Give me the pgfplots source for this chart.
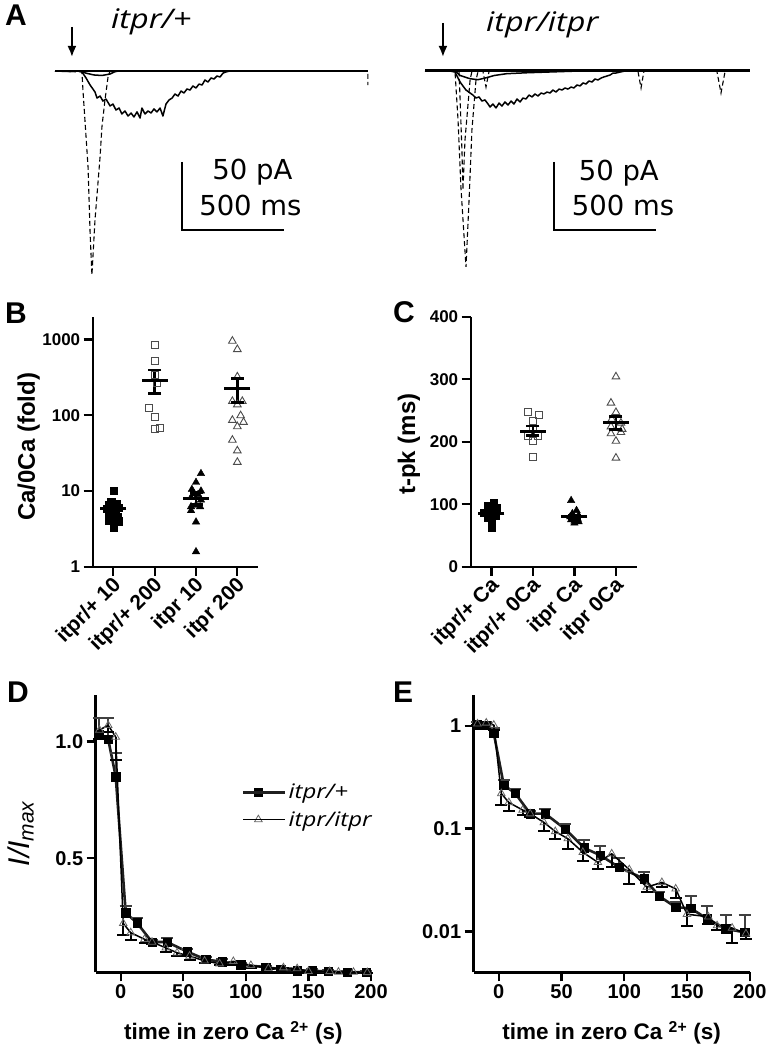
\documentclass[border=0pt]{standalone}
\usepackage{fontspec}
\setmainfont{Liberation Sans}
\newfontfamily\osans[FakeStretch=1.2]{Open Sans}
\newfontfamily\dvsans{DejaVu Sans}
\usepackage{pgfplots}
\usepackage{pgfplotstable}
\pgfplotsset{compat=1.18}
\usetikzlibrary{arrows.meta}

\pgfplotstableread{
t v e
-17 1.03 0.07
-10 1.01 0.09
-4 0.85 0.10
4 0.265 0.03
13 0.222 0.02
25 0.14 0.01
37 0.14 0.016
53 0.099 0.012
68 0.065 0.012
81 0.055 0.013
96 0.042 0.0094
116 0.0325 0.0057
128 0.022 0.002
141 0.0172 0.002
153 0.0168 0.0055
166 0.0133 0.0045
181 0.0106 0.004
196 0.0098 0.0048
}\sqdata

\pgfplotstableread{
t v e
-17 1.05 0.04
-10 1.07 0.03
-4 1.02 0.10
2 0.22 0.05
8 0.18 0.03
19 0.152 0.015
25 0.14 0.01
36 0.115 0.019
45 0.094 0.015
55 0.08 0.016
67 0.059 0.011
79 0.047 0.0065
90 0.057 0.015
104 0.04 0.011
118 0.027 0.003
130 0.030 0.003
141 0.026 0.005
150 0.0147 0.0033
167 0.0139 0.002
174 0.0114 0.001
186 0.0108 0.003
197 0.0095 0.001
}\trdata

\pgfplotsset{
  trace/.style={scale only axis, axis lines=none, clip=false, xmin=0, ymin=-155, ymax=5},
  solidtr/.style={black, line width=1.5pt, line join=round},
  dashtr/.style={black, line width=1.1pt, dash pattern=on 5pt off 3pt},
  scat/.style={scale only axis, clip=false, axis lines*=left,
    axis line style={line width=2.4pt, -},
    tick style={black, line width=2.2pt},
    major tick length=9pt, tick align=outside,
    ticklabel style={font=\fontsize{17}{17}\selectfont\bfseries},
    /pgf/number format/assume math mode=true,
    xmin=0.5, xmax=4.5, xtick={1,2,3,4},
    xticklabel style={rotate=45, anchor=east, font=\fontsize{21}{21}\selectfont\bfseries, xshift=2pt, yshift=-8pt},
    ylabel style={font=\fontsize{24}{24}\selectfont\bfseries},
  },
  fsq/.style={only marks, mark=square*, mark size=3.6pt, mark options={fill=black, draw=black}},
  osq/.style={only marks, mark=square, mark size=3.5pt, mark options={draw=black!70, line width=0.9pt}},
  ftr/.style={only marks, mark=triangle*, mark size=4.3pt, mark options={fill=black, draw=black}},
  otr/.style={only marks, mark=triangle, mark size=4.4pt, mark options={draw=black!70, line width=0.9pt}},
  meanbar/.style={only marks, mark=-, mark size=13pt, mark options={line width=3pt, black}},
  semcap/.style={only marks, mark=-, mark size=6.5pt, mark options={line width=2.6pt, black}},
  semline/.style={black, line width=2.6pt, no marks},
  dec/.style={scale only axis, clip=false, axis lines*=left,
    axis line style={line width=2.6pt, -},
    tick style={black, line width=2.4pt},
    major tick length=9pt, tick align=outside,
    ticklabel style={font=\fontsize{20}{20}\selectfont\bfseries},
    /pgf/number format/assume math mode=true,
    xmin=-20, xmax=200, xtick={0,50,100,150,200},
    xlabel={time in zero Ca \textsuperscript{2+} (s)},
    xlabel style={font=\fontsize{22.5}{22.5}\selectfont\bfseries, at={(axis description cs:0.5,-0.219)}, anchor=center},
  },
  sqline/.style={black!88, line width=2.6pt, mark=square*, mark size=4.2pt,
    mark options={fill=black, draw=black, solid, line width=0.5pt},
    error bars/y dir=plus, error bars/y explicit,
    error bars/error bar style={line width=2pt, black!75},
    error bars/error mark options={rotate=90, line width=2pt, mark size=6pt, black!75}},
  trline/.style={black, line width=1.5pt, mark=triangle, mark size=4.4pt,
    mark options={draw=black!60, fill=white, line width=0.8pt},
    error bars/y dir=minus, error bars/y explicit,
    error bars/error bar style={line width=2pt, black},
    error bars/error mark options={rotate=90, line width=2pt, mark size=6pt, black}},
}

\begin{document}
\begin{tikzpicture}
\path[use as bounding box] (0pt,0pt) rectangle (766pt,-1047pt);

% ---------------- Panel A left
\begin{axis}[trace, at={(55pt,-281.8pt)}, anchor=south west, width=316.2pt, height=217.6pt, xmax=1550]
\addplot[black, line width=2.8pt] coordinates {(0,0) (1534,0)};
\addplot[solidtr] coordinates {(0,0) (120,0) (150,-1.5) (190,-2.9) (230,-3.3) (270,-2.2) (290,-0.7) (310,0)};
\addplot[solidtr] coordinates {(0,0) (73,-0.4) (122,0) (132,-0.7) (152,-5.1) (172,-10.3) (196,-15.4) (206,-19.9) (221,-18.4) (235,-22.1) (250,-20.6) (270,-25.7) (284,-24.3) (299,-28.7) (314,-27.2) (328,-31.6) (343,-29.4) (358,-33.1) (373,-30.9) (387,-33.8) (402,-30.1) (417,-34.6) (426,-27.2) (441,-31.6) (456,-29.4) (471,-30.9) (485,-27.9) (500,-30.1) (515,-27.2) (529,-33.1) (544,-24.3) (559,-21.3) (574,-19.9) (588,-16.9) (603,-18.4) (618,-14.7) (632,-16.2) (647,-13.2) (662,-14.0) (676,-11.0) (691,-12.5) (706,-9.6) (721,-10.3) (735,-6.6) (750,-8.1) (765,-5.1) (779,-5.9) (794,-3.7) (809,-4.4) (824,-1.5) (838,-0.7) (858,0) (1534,0)};
\addplot[dashtr] coordinates {(0,0) (132,-0.7) (137,-14) (162,-70.6) (172,-119) (181,-150) (196,-109.6) (221,-63) (230,-41.2) (245,-21.3) (260,-4.4) (270,0) (1534,0) (1534,-10.3)};
\addplot[black, line width=2pt] coordinates {(622,-66.9) (622,-116.9) (1122,-116.9)};
\node[font=\dvsans\fontsize{27.5}{30}\selectfont, anchor=base, inner sep=0pt] at (axis cs:968,-80.1) {50 pA};
\node[font=\dvsans\fontsize{27.5}{30}\selectfont, anchor=base, inner sep=0pt] at (axis cs:958,-106.6) {500 ms};
\draw[-{Latex[length=11pt,width=9pt]}, line width=2pt] (axis cs:83,32.4) -- (axis cs:83,10.3);
\end{axis}

% ---------------- Panel A right
\begin{axis}[trace, at={(425pt,-281.5pt)}, anchor=south west, width=326.4pt, height=217.6pt, xmax=1600]
\addplot[black, line width=2.8pt] coordinates {(0,0) (1593,0)};
\addplot[solidtr] coordinates {(0,0) (147,0) (172,-3.5) (221,-5.9) (260,-6.6) (300,-5.2) (340,-3.5) (400,-2.2) (500,-1.5) (600,-1) (700,-0.5) (800,0) (1593,0)};
\addplot[solidtr] coordinates {(0,0) (123,-0.2) (147,-1.0) (162,-5.4) (172,-8.3) (186,-11.2) (201,-14.2) (221,-16.4) (235,-17.9) (250,-20.1) (265,-19.3) (279,-22.3) (294,-21.5) (309,-24.5) (319,-26.7) (333,-24.5) (348,-27.4) (363,-23.8) (377,-26.0) (392,-23.0) (407,-25.2) (422,-22.3) (436,-24.5) (451,-20.8) (466,-23.0) (480,-20.1) (495,-20.8) (510,-17.9) (525,-19.3) (539,-17.1) (554,-18.6) (569,-16.4) (583,-17.1) (598,-15.7) (613,-16.4) (627,-14.2) (642,-15.7) (657,-13.5) (672,-14.2) (686,-12.7) (701,-13.5) (716,-12.0) (730,-12.7) (745,-10.5) (760,-11.2) (775,-9.0) (789,-9.8) (804,-7.6) (819,-8.3) (833,-6.1) (848,-6.8) (863,-5.4) (877,-4.6) (892,-3.9) (907,-3.2) (922,-1.7) (936,-1.7) (956,-1.0) (980,-0.2) (1593,0)};
\addplot[dashtr] coordinates {(0,0) (147,-0.5) (162,-36.3) (176,-85.5) (201,-144.3) (216,-95.1) (230,-43.6) (250,-6.8) (260,-0.5) (284,-0.5) (299,-12) (314,-0.5) (1044,-0.5) (1059,-12.7) (1073,-0.5) (1431,-0.5) (1451,-16.4) (1471,-0.5) (1593,0)};
\addplot[dashtr] coordinates {(167,-0.5) (181,-58.3) (186,-87.7) (196,-51) (221,-6.8) (230,-0.5)};
\addplot[black, line width=2pt] coordinates {(631,-67.1) (631,-117.1) (1131,-117.1)};
\node[font=\dvsans\fontsize{27.5}{30}\selectfont, anchor=base, inner sep=0pt] at (axis cs:950,-80.4) {50 pA};
\node[font=\dvsans\fontsize{27.5}{30}\selectfont, anchor=base, inner sep=0pt] at (axis cs:971,-106.1) {500 ms};
\draw[-{Latex[length=11pt,width=9pt]}, line width=2pt] (axis cs:88,35.1) -- (axis cs:88,10.1);
\end{axis}

% ---------------- Panel B
\begin{axis}[scat, at={(92.7pt,-566.7pt)}, anchor=south west, width=165.3pt, height=250pt,
  ymode=log, ymin=1, ymax=2000, ytick={1,10,100,1000}, yticklabels={1,10,100,1000}, yminorticks=false,
  xticklabels={itpr/+ 10, itpr/+ 200, itpr 10, itpr 200},
  ylabel={Ca/0Ca (fold)}, ylabel style={at={(axis description cs:-0.387,0.48)}, anchor=center}]
\addplot[fsq] coordinates {(1.00,10.2) (0.88,6.5) (0.95,7.2) (1.08,6.8) (1.12,6.0) (0.92,5.8) (1.00,5.5) (0.85,5.8) (1.05,5.2) (0.90,4.9) (1.10,4.5) (0.88,4.1) (1.00,4.2) (1.12,4.0) (1.00,3.3)};
\addplot[osq] coordinates {(2.00,840) (2.00,520) (2.00,340) (2.05,270) (1.86,125) (2.00,95) (2.00,66) (2.13,68)};
\addplot[ftr] coordinates {(3.12,17) (3.00,13) (2.90,10.5) (3.12,10) (2.95,9.2) (3.05,9) (2.88,8.2) (3.12,7.6) (2.88,6.2) (3.10,6.2) (3.00,6.5) (2.88,5.5) (3.00,3.9) (3.00,1.58)};
\addplot[otr] coordinates {(3.88,955) (4.00,741) (4.00,322) (3.88,153) (4.12,153) (4.00,138) (4.08,99) (3.88,86) (4.15,81) (4.00,71) (3.88,47) (4.00,34) (4.00,24)};
\addplot[meanbar] coordinates {(1,5.8) (2,290) (3,7.9) (4,223)};
\addplot[semcap] coordinates {(1,5.3) (1,6.4) (2,194) (2,394) (3,6.6) (3,9.6) (4,146) (4,303)};
\addplot[semline] coordinates {(1,5.3) (1,6.4)};
\addplot[semline] coordinates {(2,194) (2,394)};
\addplot[semline] coordinates {(3,6.6) (3,9.6)};
\addplot[semline] coordinates {(4,146) (4,303)};
\end{axis}

% ---------------- Panel C
\begin{axis}[scat, at={(470.7pt,-566.7pt)}, anchor=south west, width=166pt, height=250pt,
  ymin=0, ymax=400, ytick={0,100,200,300,400},
  xticklabels={itpr/+ Ca, itpr/+ 0Ca, itpr Ca, itpr 0Ca},
  ylabel={t-pk (ms)}, ylabel style={at={(axis description cs:-0.372,0.49)}, anchor=center}]
\addplot[fsq] coordinates {(1.05,103) (0.90,97) (1.12,95) (0.95,90) (0.82,86) (1.00,85) (1.10,82) (0.90,78) (1.00,75) (1.00,63)};
\addplot[osq] coordinates {(1.88,248) (2.15,243) (2.00,233) (2.00,220) (1.88,210) (2.12,210) (2.00,202) (2.00,176)};
\addplot[ftr] coordinates {(2.92,106) (3.05,90) (2.95,85) (3.10,82) (2.90,80) (3.00,78) (3.08,76) (2.92,75) (3.00,73) (3.10,72) (3.00,70)};
\addplot[otr] coordinates {(4.00,304) (3.88,262) (4.00,247) (3.90,236) (4.12,230) (3.88,224) (4.15,220) (3.88,213) (4.12,215) (4.00,201) (4.00,174)};
\addplot[meanbar] coordinates {(1,85) (2,217) (3,80) (4,230)};
\addplot[semcap] coordinates {(1,81) (1,89) (2,210) (2,225) (3,77) (3,83) (4,220) (4,240)};
\addplot[semline] coordinates {(1,81) (1,89)};
\addplot[semline] coordinates {(2,210) (2,225)};
\addplot[semline] coordinates {(3,77) (3,83)};
\addplot[semline] coordinates {(4,220) (4,240)};
\end{axis}

% ---------------- Panel D
\begin{axis}[dec, at={(95.7pt,-972.3pt)}, anchor=south west, width=275.3pt, height=277.3pt,
  ymin=0.01, ymax=1.2, ytick={0.5,1.0}, yticklabels={0.5,1.0},
  ylabel={\itshape I/I\textsubscript{max}},
  ylabel style={font=\fontsize{30}{30}\selectfont, at={(axis description cs:-0.271,0.5)}, anchor=center},
  legend style={draw=none, fill=none, at={(axis description cs:0.52,0.60)}, anchor=west,
    font=\osans\itshape\fontsize{20}{20}\selectfont, row sep=7pt},
  legend cell align=left,
  legend image code/.code={\draw[mark repeat=2, mark phase=2, #1] plot coordinates {(0pt,0pt) (15pt,0pt) (30pt,0pt)}; \path (0pt,0pt) -- (42pt,0pt);}]
\addplot[sqline] table[x=t, y=v, y error=e] {\sqdata};
\addlegendentry{itpr/+}
\addplot[trline] table[x=t, y=v, y error=e] {\trdata};
\addlegendentry{itpr/itpr}
\end{axis}

% ---------------- Panel E
\begin{axis}[dec, at={(473.7pt,-972.3pt)}, anchor=south west, width=276pt, height=277.3pt,
  ymode=log, ymin=0.004, ymax=2, ytick={0.01,0.1,1}, yticklabels={0.01,0.1,1}, yminorticks=false]
\addplot[sqline] table[x=t, y=v, y error=e] {\sqdata};
\addplot[trline] table[x=t, y=v, y error=e] {\trdata};
\end{axis}

% panel letters and titles
\node[font=\fontsize{30}{30}\selectfont\bfseries, anchor=base west, inner sep=0pt] at (5pt,-25pt) {A};
\node[font=\fontsize{30}{30}\selectfont\bfseries, anchor=base west, inner sep=0pt] at (5pt,-323pt) {B};
\node[font=\fontsize{30}{30}\selectfont\bfseries, anchor=base west, inner sep=0pt] at (393pt,-322pt) {C};
\node[font=\fontsize{30}{30}\selectfont\bfseries, anchor=base west, inner sep=0pt] at (7pt,-702pt) {D};
\node[font=\fontsize{30}{30}\selectfont\bfseries, anchor=base west, inner sep=0pt] at (393pt,-702pt) {E};
\node[font=\osans\itshape\fontsize{27}{27}\selectfont, anchor=base west, inner sep=0pt] at (111pt,-28pt) {itpr/+};
\node[font=\osans\itshape\fontsize{27}{27}\selectfont, anchor=base west, inner sep=0pt] at (486pt,-31pt) {itpr/itpr};
\end{tikzpicture}
\end{document}
